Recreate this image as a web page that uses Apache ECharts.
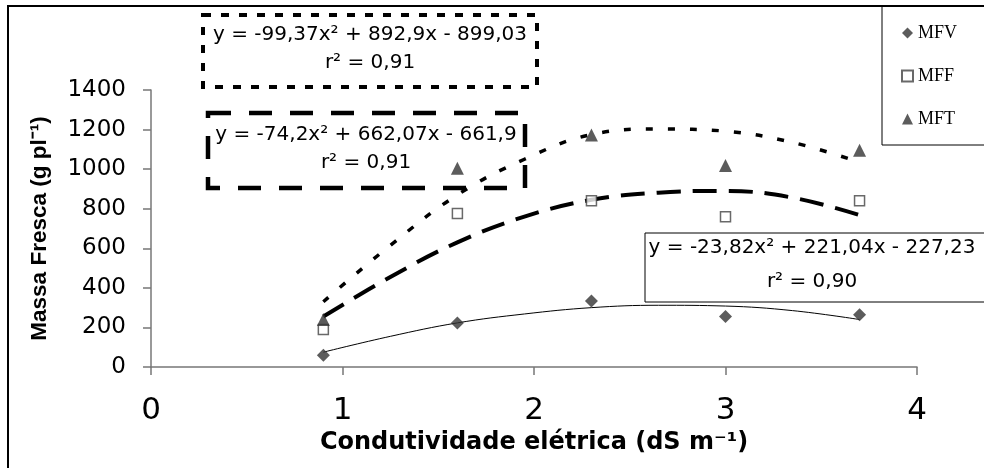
<!DOCTYPE html>
<html>
<head>
<meta charset="utf-8">
<script src="https://cdn.jsdelivr.net/npm/echarts@6/dist/echarts.min.js"></script>
<style>
  html, body { margin: 0; padding: 0; background: #fff; }
  #chart { width: 984px; height: 468px; }
</style>
</head>
<body>
<div id="chart"></div>
<script>
// condutividade eletrica (dS m-1) dos tratamentos
const condX = [0.9, 1.6, 2.3, 3.0, 3.7];
// massa fresca observada (g pl-1)
const mfv = [60, 222, 333, 255, 264];
const mff = [190, 776, 840, 759, 840];
const mft = [240, 1005, 1172, 1018, 1096];
// linhas de tendencia
const fitX = [0.9, 1.25, 1.6, 1.95, 2.3, 2.65, 3.0, 3.35, 3.7];
const mfvFit = [75, 155, 223, 268, 300, 312, 308, 285, 240];
const mffFit = [255, 455, 630, 760, 845, 881, 890, 856, 768];
const mftFit = [330, 615, 870, 1050, 1175, 1203, 1192, 1135, 1035];
const seriesNames = ['MFV', 'MFF', 'MFT'];
const equations = [
  ['y = -23,82x² + 221,04x - 227,23', 'r² = 0,90'],
  ['y = -74,2x² + 662,07x - 661,9', 'r² = 0,91'],
  ['y = -99,37x² + 892,9x - 899,03', 'r² = 0,91']
];

function pairs(xs, ys) {
  return xs.map(function (x, i) { return [x, ys[i]]; });
}

const boxFont = '20px "DejaVu Sans"';

// caixa com a equacao
function eqBox(lines, x, y, w, h, cx, y1, y2, dash, lw) {
  return {
    type: 'group',
    children: [{
      type: 'rect',
      shape: { x: x, y: y, width: w, height: h },
      style: { fill: '#fff', stroke: '#000', lineWidth: lw, lineDash: dash }
    }, {
      type: 'text',
      style: { text: lines[0], x: cx, y: y1, textAlign: 'center', textVerticalAlign: 'middle', font: boxFont, fill: '#000' }
    }, {
      type: 'text',
      style: { text: lines[1], x: cx, y: y2, textAlign: 'center', textVerticalAlign: 'middle', font: boxFont, fill: '#000' }
    }]
  };
}

let charts = echarts.init(document.getElementById('chart'));
charts.setOption({
  animation: false,
  backgroundColor: '#fff',
  grid: { left: 151, right: 67, top: 90, bottom: 101 },
  legend: {
    data: seriesNames,
    orient: 'vertical',
    left: 882,
    top: 6,
    padding: [18, 80, 17, 19],
    itemGap: 25,
    itemWidth: 11,
    itemHeight: 11,
    borderColor: '#000',
    borderWidth: 1,
    textStyle: { fontFamily: 'Liberation Serif', fontSize: 18, color: '#000' }
  },
  xAxis: {
    type: 'value',
    min: 0,
    max: 4,
    interval: 1,
    name: 'Condutividade elétrica (dS m⁻¹)',
    nameLocation: 'middle',
    nameGap: 62,
    nameTextStyle: { fontFamily: 'DejaVu Sans', fontWeight: 'bold', fontSize: 24, color: '#000' },
    splitLine: { show: false },
    axisLine: { lineStyle: { color: '#777', width: 1.5 } },
    axisTick: { length: 8, lineStyle: { color: '#777', width: 1.5 } },
    axisLabel: { margin: 28, fontFamily: 'DejaVu Sans', fontSize: 31, color: '#000' }
  },
  yAxis: {
    type: 'value',
    min: 0,
    max: 1400,
    interval: 200,
    name: 'Massa Fresca (g pl⁻¹)',
    nameLocation: 'middle',
    nameGap: 100,
    nameTextStyle: { fontFamily: 'Liberation Sans', fontWeight: 'bold', fontSize: 22.5, color: '#000' },
    splitLine: { show: false },
    axisLine: { show: true, lineStyle: { color: '#777', width: 1.5 } },
    axisTick: { show: true, length: 8, lineStyle: { color: '#777', width: 1.5 } },
    axisLabel: {
      margin: 25,
      fontFamily: 'DejaVu Sans',
      fontSize: 23,
      color: '#000',
      formatter: function (v) { return String(v); }
    }
  },
  series: [{
    name: 'MFV ajuste',
    type: 'line',
    smooth: 0.4,
    showSymbol: false,
    silent: true,
    z: 1,
    lineStyle: { color: '#000', width: 1 },
    data: pairs(fitX, mfvFit)
  }, {
    name: 'MFF ajuste',
    type: 'line',
    smooth: 0.4,
    showSymbol: false,
    silent: true,
    z: 1,
    lineStyle: { color: '#000', width: 4, type: [24, 12] },
    data: pairs(fitX, mffFit)
  }, {
    name: 'MFT ajuste',
    type: 'line',
    smooth: 0.4,
    showSymbol: false,
    silent: true,
    z: 1,
    lineStyle: { color: '#000', width: 3.5, type: [7, 15] },
    data: pairs(fitX, mftFit)
  }, {
    name: 'MFV',
    type: 'scatter',
    symbol: 'diamond',
    symbolSize: 13,
    z: 3,
    itemStyle: { color: '#333' },
    data: pairs(condX, mfv)
  }, {
    name: 'MFF',
    type: 'scatter',
    symbol: 'rect',
    symbolSize: 10,
    z: 3,
    itemStyle: { color: '#fff', borderColor: '#444', borderWidth: 1.5 },
    data: pairs(condX, mff)
  }, {
    name: 'MFT',
    type: 'scatter',
    symbol: 'triangle',
    symbolSize: 13,
    z: 3,
    itemStyle: { color: '#333' },
    data: pairs(condX, mft)
  }],
  graphic: [
    // borda externa
    { type: 'polyline', shape: { points: [[8, 468], [8, 6], [984, 6]] }, style: { stroke: '#000', lineWidth: 2, fill: null }, z: 0 },
    eqBox(equations[2], 203, 15, 334, 72, 370, 35, 63, [8, 10], 4),
    eqBox(equations[1], 208, 113, 317, 75, 366, 135, 163, [23, 18], 4.5),
    eqBox(equations[0], 645, 233, 345, 69, 812, 248, 282, null, 1)
  ]
});
</script>
</body>
</html>
